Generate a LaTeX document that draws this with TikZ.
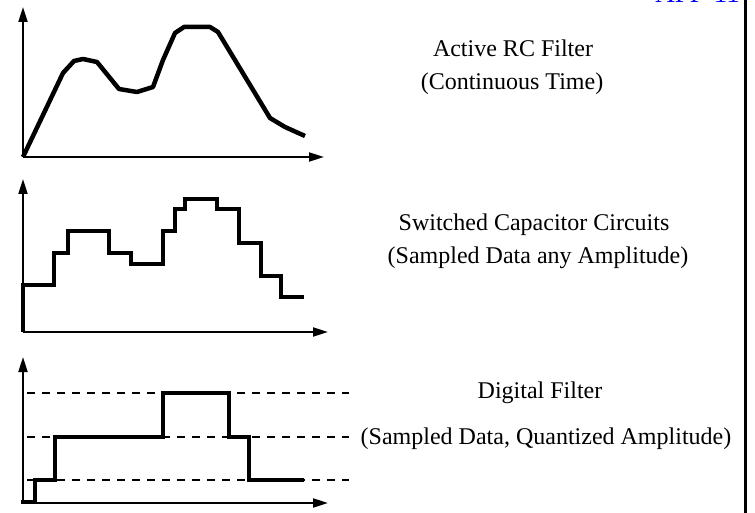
\documentclass[tikz,border=0pt]{standalone}
\usepackage{fontspec}
\setmainfont{Liberation Serif}
\usetikzlibrary{arrows.meta}
\begin{document}
\begin{tikzpicture}[x=1pt,y=-1pt,
  axis/.style={line width=2pt,-{Triangle[length=15pt,width=9pt]}},
  sig/.style={line width=4.5pt},
  lvl/.style={line width=2pt,dash pattern=on 8pt off 7pt,dash phase=11pt},
  lbl/.style={inner sep=0pt,anchor=base,font=\fontsize{24}{28}\selectfont}]
\useasboundingbox (0,0) rectangle (755,513);
% right border line and clipped header
\draw[line width=2.5pt] (745.5,-2) -- (745.5,515);
\node[inner sep=0pt,anchor=base east,text=blue,font=\fontsize{27}{30}\selectfont] (hdr) at (740,3) {APP-11};
% panel 1
\coordinate (o1) at (23,157);
\coordinate (y1) at (23,7);
\coordinate (x1) at (324,157);
\draw[axis] (o1) -- (y1);
\draw[axis] (o1) -- (x1);
\draw[sig,line join=round] (o1) -- (63,73) -- (74,61) -- (83,59) -- (97,62) -- (119,89)
  -- (137,92) -- (153,87) -- (163,60) -- (175,33) -- (184,27) -- (210,27) -- (218,32)
  -- (270,118) -- (285,127) -- (305,136);
\node[lbl] (t1a) at (513,57) {Active RC Filter};
\node[lbl] (t1b) at (512,90) {(Continuous Time)};
% panel 2
\coordinate (o2) at (23,332);
\coordinate (y2) at (23,179);
\coordinate (x2) at (328,332);
\draw[axis] (o2) -- (y2);
\draw[axis] (o2) -- (x2);
\draw[sig] (o2) -- (23,285) -- (54,285) -- (54,253) -- (68,253) -- (68,231) -- (109,231)
  -- (109,253) -- (131,253) -- (131,264) -- (163,264) -- (163,231) -- (175,231)
  -- (175,209) -- (185,209) -- (185,199) -- (217,199) -- (217,209) -- (239,209)
  -- (239,243) -- (261,243) -- (261,276) -- (281,276) -- (281,297) -- (304,297);
\node[lbl] (t2a) at (534,230) {Switched Capacitor Circuits};
\node[lbl] (t2b) at (538,263) {(Sampled Data any Amplitude)};
% panel 3
\coordinate (o3) at (23,503);
\coordinate (y3) at (23,357);
\coordinate (x3) at (328,503);
\foreach \yy/\nm in {393/la,437/lb,480/lc}{
  \coordinate (\nm s) at (23,\yy);
  \coordinate (\nm e) at (349,\yy);
  \draw[lvl] (\nm s) -- (\nm e);
}
\draw[axis] (o3) -- (y3);
\draw[axis] (o3) -- (x3);
\draw[sig] (21,502) -- (35,502) -- (35,480) -- (55,480) -- (55,437) -- (163,437)
  -- (163,393) -- (229,393) -- (229,437) -- (249,437) -- (249,480) -- (304,480);
\node[lbl] (t3a) at (540,398) {Digital Filter};
\node[lbl] (t3b) at (546,444) {(Sampled Data, Quantized Amplitude)};
\end{tikzpicture}
\end{document}
